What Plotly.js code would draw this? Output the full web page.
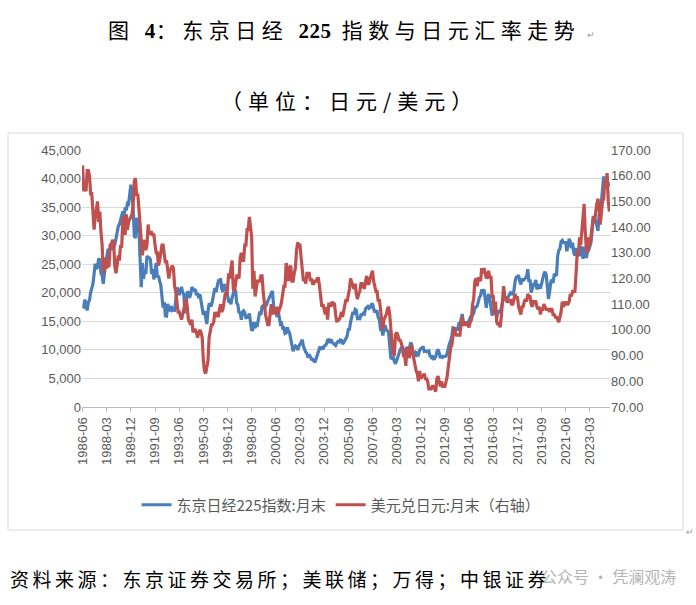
<!DOCTYPE html>
<html>
<head>
<meta charset="utf-8">
<script src="https://cdn.plot.ly/plotly-3.0.1.min.js"></script>
<style>
  html, body { margin: 0; padding: 0; background: #fff; }
  #chart { width: 696px; height: 605px; }
</style>
</head>
<body>
<div id="chart"></div>
<script>
// Month-end values, 1986-06 .. 2024-08
const startYear = 1986, startMonth = 6;

// Nikkei 225, month end (left axis)
const nikkei = [
  17654, 17540, 18820, 17853, 16910, 18326, 18701,                              // 1986 Jun-Dec
  20048, 20766, 21567, 23275, 25082, 24176, 24489, 26029, 25722, 23329, 23053, 21564, // 1987
  23622, 25106, 26260, 27434, 27417, 27770, 28298, 27786, 27923, 28418, 29579, 30159, // 1988
  31581, 31986, 32839, 33714, 34267, 32949, 34954, 34431, 35637, 35549, 37268, 38916, // 1989
  37189, 34592, 29980, 29585, 33131, 31940, 31036, 25978, 20984, 25194, 22455, 23849, // 1990
  23293, 26409, 26292, 26111, 25790, 23291, 24121, 22336, 23916, 25222, 22687, 22984, // 1991
  22023, 21339, 19346, 17391, 18348, 15952, 15910, 18061, 17399, 16767, 17684, 16925, // 1992
  17024, 16953, 18591, 20919, 20552, 19590, 20380, 21027, 20106, 19704, 16408, 17417, // 1993
  20229, 19997, 19112, 19725, 20974, 20643, 20449, 20629, 19564, 19990, 19076, 19723, // 1994
  18650, 17053, 16140, 16807, 15437, 14517, 16678, 18117, 17913, 17655, 18744, 19868, // 1995
  20813, 20125, 21407, 22041, 21956, 22531, 20693, 20167, 21556, 20466, 21020, 19361, // 1996
  18330, 18557, 18003, 19151, 20069, 20605, 20331, 18229, 17888, 16459, 16636, 15259, // 1997
  16628, 16832, 16527, 15642, 15671, 15830, 16379, 14108, 13406, 13564, 14883, 13842, // 1998
  14499, 14368, 15837, 16702, 16112, 17530, 17862, 17437, 17605, 17942, 18558, 18934, // 1999
  19540, 19960, 20337, 17974, 16332, 17411, 15727, 16861, 15747, 14539, 14649, 13786, // 2000
  13844, 12884, 12999, 13934, 13262, 12969, 11861, 10714, 9775, 10366, 10697, 10543,  // 2001
  9998, 10588, 11025, 11493, 11764, 10622, 9877, 9619, 9383, 8640, 9216, 8579,        // 2002
  8340, 8363, 7973, 7831, 8425, 9083, 9563, 10344, 10219, 10560, 10101, 10677,        // 2003
  10784, 11042, 11715, 11762, 11236, 11859, 11326, 11082, 10824, 10771, 11231, 11489, // 2004
  11388, 11741, 11669, 11009, 11277, 11584, 11900, 12414, 13574, 13607, 14872, 16111, // 2005
  16650, 16205, 17060, 16906, 15468, 15505, 15457, 16141, 16128, 16399, 16274, 17226, // 2006
  17383, 17604, 17288, 17400, 17876, 18138, 17249, 16569, 16786, 16737, 15681, 15308, // 2007
  13592, 13603, 12526, 13850, 14339, 13481, 13377, 13073, 11260, 8577, 8512, 8860,    // 2008
  7994, 7568, 8110, 8828, 9523, 9958, 10357, 10493, 10133, 10035, 9346, 10546,        // 2009
  10198, 10126, 11090, 11057, 9769, 9383, 9537, 8824, 9369, 9202, 9937, 10229,        // 2010
  10238, 10624, 9755, 9850, 9694, 9816, 9833, 8955, 8700, 8988, 8435, 8455,           // 2011
  8803, 9723, 10084, 9521, 8543, 9007, 8695, 8840, 8870, 8928, 9446, 10395,           // 2012
  11139, 11559, 12398, 13861, 13775, 13677, 13668, 13389, 14456, 14328, 15662, 16291, // 2013
  14915, 14841, 14828, 14304, 14632, 15162, 15621, 15425, 16174, 16414, 17460, 17451, // 2014
  17674, 18798, 19207, 19520, 20563, 20236, 20585, 18890, 17388, 19083, 19747, 19034, // 2015
  17518, 16027, 16759, 16666, 17235, 15576, 16569, 16887, 16450, 17425, 18308, 19114, // 2016
  19041, 19119, 18909, 19197, 19651, 20033, 19925, 19646, 20356, 22012, 22725, 22765, // 2017
  23098, 22068, 21454, 22468, 22202, 22305, 22554, 22865, 24120, 21920, 22351, 20015, // 2018
  20773, 21385, 21206, 22259, 20601, 21276, 21522, 20704, 21756, 22927, 23294, 23657, // 2019
  23205, 21143, 18917, 20194, 21878, 22288, 21710, 23140, 23185, 22977, 26434, 27444, // 2020
  27663, 28966, 29179, 28813, 28860, 28792, 27284, 28090, 29453, 28893, 27822, 28792, // 2021
  27002, 26527, 27821, 26848, 27280, 26393, 27802, 28092, 25937, 27587, 27969, 26095, // 2022
  27327, 27446, 28041, 28856, 30888, 33189, 33172, 32619, 31858, 30859, 33487, 33464, // 2023
  36287, 39166, 40369, 38406, 38488, 39583, 39102, 38648                              // 2024 Jan-Aug
];

// USD/JPY, month end (right axis)
const usdjpy = [
  164, 154, 155, 154, 162, 162, 160,                    // 1986 Jun-Dec
  153, 153, 146, 139, 144, 147, 150, 142, 146, 138, 133, 122, // 1987
  127, 128, 124, 125, 125, 133, 133, 135, 134, 125, 122, 125, // 1988
  129, 127, 133, 132, 143, 144, 137, 145, 139, 142, 143, 144, // 1989
  145, 149, 158, 159, 152, 153, 147, 144, 138, 129, 133, 135, // 1990
  131, 133, 141, 137, 138, 138, 137, 137, 133, 130, 130, 125, // 1991
  127, 130, 133, 133, 128, 126, 127, 123, 120, 123, 124, 125, // 1992
  124, 117, 115, 111, 107, 107, 105, 104, 106, 108, 109, 112, // 1993
  109, 104, 103, 102, 104, 99, 100, 100, 99, 97, 99, 100,     // 1994
  99, 97, 88, 84, 83, 85, 88, 97, 100, 102, 102, 103,         // 1995
  107, 105, 107, 105, 108, 110, 107, 108, 111, 114, 114, 116, // 1996
  122, 120, 124, 127, 116, 115, 118, 121, 121, 120, 128, 130, // 1997
  127, 127, 133, 133, 139, 139, 144, 141, 136, 116, 123, 113, // 1998
  116, 119, 119, 119, 121, 121, 115, 110, 106, 104, 102, 102, // 1999
  107, 110, 106, 108, 108, 106, 109, 106, 108, 109, 111, 114, // 2000
  117, 117, 126, 124, 119, 124, 125, 119, 119, 122, 124, 131, // 2001
  134, 133, 133, 128, 124, 119, 120, 118, 122, 122, 122, 119, // 2002
  120, 118, 118, 119, 119, 120, 120, 117, 111, 109, 110, 107, // 2003
  106, 109, 104, 110, 110, 109, 111, 110, 110, 106, 103, 104, // 2004
  104, 105, 107, 105, 108, 111, 112, 111, 113, 116, 120, 118, // 2005
  117, 116, 118, 114, 112, 114, 115, 118, 118, 117, 116, 119, // 2006
  121, 118, 118, 120, 122, 123, 119, 116, 115, 115, 111, 112, // 2007
  106, 104, 100, 104, 105, 106, 108, 109, 106, 98, 95, 91,    // 2008
  90, 98, 99, 98, 96, 96, 95, 93, 90, 90, 86, 93,             // 2009
  90, 89, 93, 94, 91, 88, 86, 84, 83, 80, 84, 81,             // 2010
  82, 82, 83, 81, 81, 80, 77, 77, 77, 78, 78, 77,             // 2011
  76, 81, 82, 80, 78, 80, 78, 78, 78, 80, 82, 86,             // 2012
  91, 93, 94, 97, 101, 99, 98, 98, 98, 98, 102, 105,          // 2013
  102, 102, 103, 102, 102, 101, 103, 104, 110, 112, 119, 120, // 2014
  117, 120, 120, 119, 124, 122, 124, 121, 120, 121, 123, 120, // 2015
  121, 113, 113, 106, 111, 103, 102, 103, 101, 105, 114, 117, // 2016
  113, 112, 111, 111, 111, 112, 110, 110, 113, 114, 112, 113, // 2017
  109, 107, 106, 109, 109, 111, 112, 111, 114, 113, 113, 110, // 2018
  109, 111, 111, 111, 109, 108, 109, 106, 108, 108, 110, 109, // 2019
  108, 108, 108, 107, 108, 108, 106, 106, 105, 105, 104, 103, // 2020
  105, 107, 111, 109, 110, 111, 110, 110, 111, 114, 113, 115, // 2021
  115, 115, 122, 130, 129, 136, 133, 139, 145, 149, 138, 131, // 2022
  130, 136, 133, 136, 139, 144, 142, 146, 149, 151, 148, 141, // 2023
  147, 150, 151, 158, 157, 161, 150, 146                      // 2024 Jan-Aug
];

// month labels "YYYY-MM"
const months = [];
for (let i = 0; i < nikkei.length; i++) {
  const m = startMonth - 1 + i;
  const y = startYear + Math.floor(m / 12);
  months.push(y + '-' + String(m % 12 + 1).padStart(2, '0'));
}
// labelled every 21 months, as in the original
const tickLabels = months.filter((d, i) => i % 21 === 0 && i < months.length - 10);

// plot area in pixels, used to place the surrounding text
const L = 82, R = 610, T = 150, B = 407;
const px = x => (x - L) / (R - L);
const py = y => (B - y) / (B - T);

const tickFont = { family: 'Liberation Sans, Arial, sans-serif', size: 13, color: '#595959' };
const cjk = 'Noto Sans CJK SC, sans-serif';
const serif = "font-family:'Liberation Serif',serif;font-weight:bold;letter-spacing:0.5px";
const spaced = px => '<span style="letter-spacing:' + px + 'px">';

const traceNikkei = {
  x: months,
  y: nikkei,
  name: '东京日经225指数:月末',
  type: 'scatter',
  mode: 'lines',
  line: { color: '#4A7EBB', width: 3.2 },
  yaxis: 'y',
};

const traceUsd = {
  x: months,
  y: usdjpy,
  name: '美元兑日元:月末（右轴）',
  type: 'scatter',
  mode: 'lines',
  line: { color: '#C0504D', width: 3.2 },
  yaxis: 'y2',
};

const layout = {
  width: 696,
  height: 605,
  paper_bgcolor: '#ffffff',
  plot_bgcolor: '#ffffff',
  margin: { l: L, r: 696 - R, t: T, b: 605 - B, pad: 0 },
  showlegend: true,
  legend: {
    orientation: 'h',
    x: px(341), xanchor: 'center',
    y: py(505), yanchor: 'middle',
    font: { family: cjk, size: 15, color: '#595959' },
    itemwidth: 30,
    tracegroupgap: 0,
  },
  xaxis: {
    type: 'category',
    range: [-0.5, months.length - 0.5],
    tickmode: 'array',
    tickvals: tickLabels,
    ticktext: tickLabels,
    tickangle: -90,
    tickfont: tickFont,
    ticks: 'outside',
    ticklen: 4,
    tickcolor: '#BFBFBF',
    showline: true,
    linecolor: '#BFBFBF',
    linewidth: 1,
    showgrid: false,
    zeroline: false,
  },
  yaxis: {
    range: [0, 45000],
    dtick: 5000,
    tickformat: ',d',
    tickfont: tickFont,
    gridcolor: '#D9D9D9',
    gridwidth: 1,
    showline: false,
    zeroline: false,
    ticks: '',
  },
  yaxis2: {
    overlaying: 'y',
    side: 'right',
    range: [70, 170],
    dtick: 10,
    tickformat: '.2f',
    tickfont: tickFont,
    showgrid: false,
    showline: false,
    zeroline: false,
    ticks: '',
  },
  shapes: [
    {
      type: 'rect', xref: 'paper', yref: 'paper',
      x0: px(8), x1: px(683), y0: py(530), y1: py(133),
      line: { color: '#D9D9D9', width: 1 },
      layer: 'below',
    },
  ],
  annotations: [
    {
      text: spaced(5.5) + '图 <span style="' + serif + '">4</span>：东京日经 <span style="' + serif + '">225</span> 指数与日元汇率走势</span>',
      xref: 'paper', yref: 'paper', x: px(344), y: py(29),
      xanchor: 'center', yanchor: 'middle', showarrow: false,
      font: { family: cjk, size: 21, color: '#000000' },
    },
    {
      text: '↵',
      xref: 'paper', yref: 'paper', x: px(585), y: py(34),
      xanchor: 'left', yanchor: 'middle', showarrow: false,
      font: { family: cjk, size: 9, color: '#9a9a9a' },
    },
    {
      text: spaced(6) + '（单位：日元/美元）</span>',
      xref: 'paper', yref: 'paper', x: px(349), y: py(100),
      xanchor: 'center', yanchor: 'middle', showarrow: false,
      font: { family: cjk, size: 21, color: '#000000' },
    },
    {
      text: '↵',
      xref: 'paper', yref: 'paper', x: px(684), y: py(531),
      xanchor: 'left', yanchor: 'middle', showarrow: false,
      font: { family: cjk, size: 9, color: '#9a9a9a' },
    },
    {
      text: spaced(3.5) + '资料来源：东京证券交易所；美联储；万得；中银证券</span>',
      xref: 'paper', yref: 'paper', x: px(8), y: py(578),
      xanchor: 'left', yanchor: 'middle', showarrow: false,
      font: { family: cjk, size: 19, color: '#000000' },
    },
    {
      text: '公众号 · 凭澜观涛',
      xref: 'paper', yref: 'paper', x: px(678), y: py(576),
      xanchor: 'right', yanchor: 'middle', showarrow: false,
      font: { family: cjk, size: 16, color: '#b4b4b4' },
    },
  ],
};

Plotly.newPlot('chart', [traceNikkei, traceUsd], layout, { displayModeBar: false, staticPlot: true });
</script>
</body>
</html>
